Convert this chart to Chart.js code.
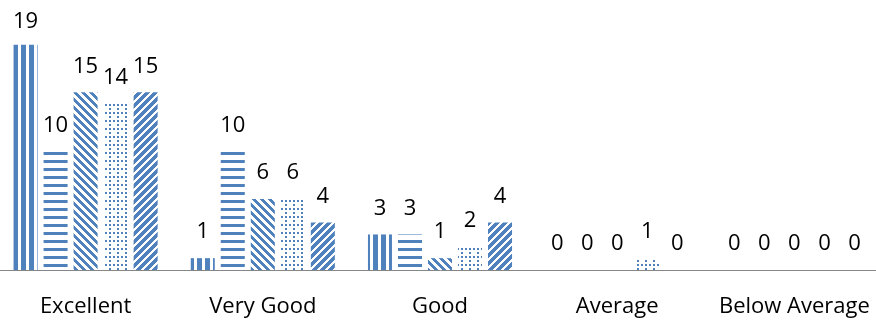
<!DOCTYPE html>
<html>
<head>
<meta charset="utf-8">
<script src="https://cdn.jsdelivr.net/npm/chart.js@4"></script>
<style>
  html, body { margin: 0; padding: 0; background: #fff; overflow: hidden; }
  #wrap { position: absolute; left: -3px; top: 0; width: 886px; height: 320px; }
</style>
</head>
<body>
<div id="wrap"><canvas id="chart"></canvas></div>
<script>
const categories = ['Excellent', 'Very Good', 'Good', 'Average', 'Below Average'];
const series1 = [19, 1, 3, 0, 0];
const series2 = [10, 10, 3, 0, 0];
const series3 = [15, 6, 1, 0, 0];
const series4 = [14, 6, 2, 1, 0];
const series5 = [15, 4, 4, 0, 0];

const BLUE = '#4f81bd';

// build a small tile pattern from a pixel test
function makePattern(size, test) {
    const c = document.createElement('canvas');
    c.width = size;
    c.height = size;
    const g = c.getContext('2d');
    g.fillStyle = BLUE;
    for (let y = 0; y < size; y++) {
        for (let x = 0; x < size; x++) {
            if (test(x, y)) g.fillRect(x, y, 1, 1);
        }
    }
    return g.createPattern(c, 'repeat');
}

const patterns = [
    makePattern(8, (x, y) => x % 8 < 5),                       // vertical stripes
    makePattern(8, (x, y) => y % 8 < 3),                       // horizontal stripes
    makePattern(8, (x, y) => ((x - y + 16) % 8) < 4),          // down diagonal
    makePattern(8, (x, y) => (x % 8 < 2 && y % 4 < 2) || (y % 8 < 2 && x % 4 < 2)), // dotted grid
    makePattern(8, (x, y) => ((x + y) % 8) < 5)                // up diagonal
];

const valueLabels = {
    id: 'valueLabels',
    afterDatasetsDraw(chart) {
        const ctx = chart.ctx;
        ctx.save();
        ctx.font = '22px "Open Sans"';
        ctx.fillStyle = '#000';
        ctx.textAlign = 'center';
        ctx.textBaseline = 'middle';
        chart.data.datasets.forEach((ds, i) => {
            chart.getDatasetMeta(i).data.forEach((bar, j) => {
                const y = Math.max(bar.y - 26, 22);
                ctx.fillText(String(ds.data[j]), bar.x, y);
            });
        });
        ctx.restore();
    }
};

const seriesList = [series1, series2, series3, series4, series5];

new Chart(document.getElementById('chart'), {
    type: 'bar',
    data: {
        labels: categories,
        datasets: seriesList.map((s, i) => ({
            label: 'Series ' + (i + 1),
            data: s,
            backgroundColor: patterns[i],
            borderWidth: 0
        }))
    },
    options: {
        responsive: true,
        maintainAspectRatio: false,
        animation: false,
        devicePixelRatio: 1,
        datasets: {
            bar: { categoryPercentage: 0.847, barPercentage: 0.8 }
        },
        layout: { padding: { top: 33, left: 0, right: 0, bottom: 0 } },
        plugins: {
            legend: { display: false },
            tooltip: { enabled: false }
        },
        scales: {
            x: {
                grid: { display: false, drawTicks: false },
                border: { display: true, color: '#868686', width: 1 },
                ticks: {
                    color: '#000',
                    font: { family: 'Open Sans', size: 22 },
                    padding: 24,
                    maxRotation: 0,
                    autoSkip: false
                },
                afterFit(scale) {
                    scale.height = 50;
                    scale.paddingLeft = 0;
                    scale.paddingRight = 0;
                }
            },
            y: {
                display: false,
                min: 0,
                max: 20
            }
        }
    },
    plugins: [valueLabels]
});
</script>
</body>
</html>
